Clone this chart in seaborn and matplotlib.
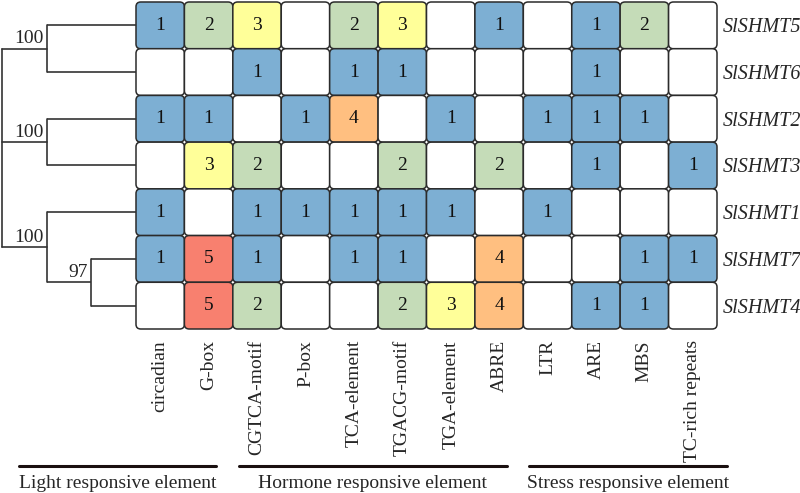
import matplotlib
matplotlib.use('Agg')
import matplotlib.pyplot as plt
import numpy as np
import pandas as pd
import seaborn as sns
from matplotlib.colors import ListedColormap, BoundaryNorm
from matplotlib.patches import FancyBboxPatch
from matplotlib.lines import Line2D

# data
genes = ['SlSHMT5', 'SlSHMT6', 'SlSHMT2', 'SlSHMT3', 'SlSHMT1', 'SlSHMT7', 'SlSHMT4']
elements = ['circadian', 'G-box', 'CGTCA-motif', 'P-box', 'TCA-element', 'TGACG-motif',
            'TGA-element', 'ABRE', 'LTR', 'ARE', 'MBS', 'TC-rich repeats']
SlSHMT5 = [1, 2, 3, 0, 2, 3, 0, 1, 0, 1, 2, 0]
SlSHMT6 = [0, 0, 1, 0, 1, 1, 0, 0, 0, 1, 0, 0]
SlSHMT2 = [1, 1, 0, 1, 4, 0, 1, 0, 1, 1, 1, 0]
SlSHMT3 = [0, 3, 2, 0, 0, 2, 0, 2, 0, 1, 0, 1]
SlSHMT1 = [1, 0, 1, 1, 1, 1, 1, 0, 1, 0, 0, 0]
SlSHMT7 = [1, 5, 1, 0, 1, 1, 0, 4, 0, 0, 1, 1]
SlSHMT4 = [0, 5, 2, 0, 0, 2, 3, 4, 0, 1, 1, 0]
# tree: (children, bootstrap)
tree = ((('SlSHMT5', 'SlSHMT6'), 100),
        (('SlSHMT2', 'SlSHMT3'), 100),
        (('SlSHMT1', (('SlSHMT7', 'SlSHMT4'), 97)), 100))
groups = ['Light responsive element', 'Hormone responsive element', 'Stress responsive element']
group_spans = [(19, 216), (239, 507), (529, 727)]  # pixel extents of the underlines

df = pd.DataFrame([SlSHMT5, SlSHMT6, SlSHMT2, SlSHMT3, SlSHMT1, SlSHMT7, SlSHMT4],
                  index=genes, columns=elements)

sns.set_style('white')
plt.rcParams['font.family'] = ['Liberation Serif', 'DejaVu Serif']
FS = 14

W, H = 800, 493
fig = plt.figure(figsize=(W / 100, H / 100), dpi=100)
left, right, top, bottom = 136, 717, 2, 329
ax = fig.add_axes([left / W, 1 - bottom / H, (right - left) / W, (bottom - top) / H])
tax = fig.add_axes([0, 1 - bottom / H, left / W, (bottom - top) / H])

colors = ['#ffffff', '#7dafd3', '#c5dcb8', '#ffff99', '#ffbf80', '#f8806f']
cmap = ListedColormap(colors)
norm = BoundaryNorm(np.arange(-0.5, 6.5, 1), cmap.N)
annot = df.astype(str).where(df > 0, '')

sns.heatmap(df, ax=ax, cmap=cmap, norm=norm, cbar=False, annot=annot, fmt='',
            annot_kws={'size': FS, 'color': '#111111'})
ax.collections[0].set_visible(False)

for i in range(df.shape[0]):
    for j in range(df.shape[1]):
        p = FancyBboxPatch((j, i), 1, 1, boxstyle='round,pad=0,rounding_size=0.1',
                           facecolor=cmap(norm(df.iat[i, j])), edgecolor='#2b2b2b',
                           linewidth=1.1, zorder=2, clip_on=False)
        ax.add_patch(p)
for t in ax.texts:
    t.set_zorder(4)

ax.set_xticklabels(elements, rotation=90, fontsize=FS, va='top')
ax.yaxis.tick_right()
ax.set_yticklabels(genes, rotation=0, fontsize=14.5, style='italic', ha='left')
ax.tick_params(axis='x', length=0, pad=8)
ax.tick_params(axis='y', length=0, pad=4)
ax.set_xlabel('')
ax.set_ylabel('')
for s in ax.spines.values():
    s.set_visible(False)

# dendrogram
rows = {g: i + 0.5 for i, g in enumerate(genes)}
leaf_x = 3


def draw(node, depth):
    if isinstance(node, str):
        return rows[node]
    children, boot = node
    ys = [draw(c, depth + 1) for c in children]
    for c, y in zip(children, ys):
        cx = leaf_x if isinstance(c, str) else depth + 1
        tax.plot([depth, cx], [y, y], color='#333333', lw=1.2, solid_capstyle='butt')
    tax.plot([depth, depth], [min(ys), max(ys)], color='#333333', lw=1.2)
    ymid = (min(ys) + max(ys)) / 2
    tax.text(depth - 0.07, ymid - 0.03, str(boot), ha='right', va='bottom', fontsize=FS)
    return ymid


ys = [draw(c, 1) for c in tree]
for y in ys:
    tax.plot([0, 1], [y, y], color='#333333', lw=1.2)
tax.plot([0, 0], [min(ys), max(ys)], color='#333333', lw=1.2)
tax.set_xlim(-0.045, leaf_x)
tax.set_ylim(df.shape[0], 0)
tax.axis('off')

# group underlines and labels
for name, (x0, x1) in zip(groups, group_spans):
    fig.add_artist(Line2D([x0 / W, x1 / W], [1 - 466 / H, 1 - 466 / H],
                          color='#1a1010', lw=2.2, transform=fig.transFigure))
    fig.text((x0 + x1) / 2 / W, 1 - 483 / H, name, ha='center', va='center', fontsize=FS)

fig.savefig('out.png', dpi=100)
